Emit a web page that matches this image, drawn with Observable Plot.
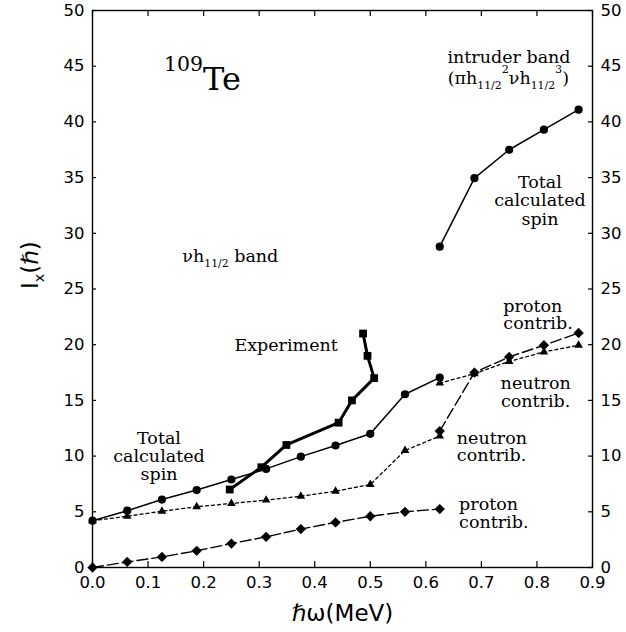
<!DOCTYPE html>
<html>
<head>
<meta charset="utf-8">
<script src="https://cdn.jsdelivr.net/npm/d3@7"></script>
<script src="https://cdn.jsdelivr.net/npm/@observablehq/plot@0.6"></script>
<style>
  html, body { margin: 0; padding: 0; background: #fff; }
  svg { display: block; }
</style>
</head>
<body>
<div id="chart"></div>
<script>
// ---- data: nu h11/2 band (calculated) ----
const omega = [0, 0.0625, 0.125, 0.1875, 0.25, 0.3125, 0.375, 0.4375, 0.5, 0.5625, 0.625];
const totalSpin = [4.2, 5.1, 6.1, 6.95, 7.9, 8.85, 9.95, 10.95, 12.0, 15.55, 17.05];
const neutronContrib = [4.2, 4.6, 5.05, 5.45, 5.75, 6.05, 6.4, 6.85, 7.45, 10.5, 11.8];
const protonContrib = [0, 0.5, 0.95, 1.5, 2.15, 2.75, 3.45, 4.05, 4.6, 5.0, 5.25];

// ---- data: intruder band (calculated) ----
const omegaIntruder = [0.625, 0.6875, 0.75, 0.8125, 0.875];
const intruderTotal = [28.8, 34.95, 37.5, 39.3, 41.1];
const intruderProton = [12.25, 17.5, 18.9, 19.95, 21.05];
const intruderNeutron = [16.55, 17.4, 18.5, 19.35, 19.95];

// ---- data: experiment ----
const expOmega = [0.247, 0.304, 0.349, 0.443, 0.467, 0.507, 0.495, 0.487];
const expSpin = [7, 9, 11, 13, 15, 17, 19, 21];

// ---- ticks ----
const xTicks = [0, 0.1, 0.2, 0.3, 0.4, 0.5, 0.6, 0.7, 0.8, 0.9];
const yTicks = [0, 5, 10, 15, 20, 25, 30, 35, 40, 45, 50];

// ---- annotation texts (anchored in data units) ----
const labelNucleus = [{x: 0.1286, y: 42.83, text: "^{109}Te"}];
const labelsBaselineStart = [{x: 0.1617, y: 27.40, text: "νh_{11/2} band"}];
const labelsBaselineMiddle = [
  {x: 0.7497, y: 45.32, text: "intruder band"},
  {x: 0.7485, y: 43.43, text: "(πh_{11/2}^{2}νh_{11/2}^{3})"},
  {x: 0.3485, y: 19.47, text: "Experiment"}
];
const labelsBlockMiddle = [
  {x: 0.8054, y: 32.94, text: "Total\ncalculated\nspin"},
  {x: 0.1197, y: 9.97, text: "Total\ncalculated\nspin"},
  {x: 0.7977, y: 15.77, text: "neutron\ncontrib."}
];
const labelsBlockStart = [
  {x: 0.7395, y: 22.68, text: "proton\ncontrib."},
  {x: 0.6558, y: 10.83, text: "neutron\ncontrib."},
  {x: 0.6599, y: 4.87, text: "proton\ncontrib."}
];
const xTitle = ["ℏω(MeV)"];
const yTitle = ["I_{x}(ℏ)"];

function series(xs, ys) { return xs.map((x, i) => ({x, y: ys[i]})); }

const total = series(omega, totalSpin);
const neutron = series(omega, neutronContrib);
const proton = series(omega, protonContrib);
const iTotal = series(omegaIntruder, intruderTotal);
const iProton = series(omegaIntruder, intruderProton);
const iNeutron = series(omegaIntruder, intruderNeutron);
const experiment = series(expOmega, expSpin);

const W = 626, H = 632, mL = 92, mR = 34, mT = 10, mB = 65;
const innerW = W - mL - mR, innerH = H - mT - mB;
const serif = "DejaVu Serif";
const labelSize = 17.5;

const svg = Plot.plot({
  width: W, height: H,
  marginLeft: mL, marginRight: mR, marginTop: mT, marginBottom: mB,
  style: {fontFamily: "DejaVu Sans", background: "white", color: "black", overflow: "visible"},
  x: {domain: [0, 0.9]},
  y: {domain: [0, 50]},
  marks: [
    Plot.axisX(xTicks, {anchor: "bottom", tickSize: 0, tickPadding: 9, tickFormat: d3.format(".1f"), fontSize: 16.5, label: null}),
    Plot.axisY(yTicks, {anchor: "left", tickSize: 0, tickPadding: 8, fontSize: 16.5, label: null}),
    Plot.axisY(yTicks, {anchor: "right", tickSize: 0, tickPadding: 8, fontSize: 16.5, label: null}),
    // inward ticks on all four sides
    Plot.tickX(xTicks, {x: d => d, insetTop: innerH - 6, stroke: "black", strokeWidth: 1.2}),
    Plot.tickX(xTicks, {x: d => d, insetBottom: innerH - 6, stroke: "black", strokeWidth: 1.2}),
    Plot.tickY(yTicks, {y: d => d, insetRight: innerW - 4, stroke: "black", strokeWidth: 1.2}),
    Plot.tickY(yTicks, {y: d => d, insetLeft: innerW - 4, stroke: "black", strokeWidth: 1.2}),
    Plot.frame({stroke: "black", strokeWidth: 1.4}),

    // proton contributions (long dashes, diamonds)
    Plot.line(proton, {x: "x", y: "y", stroke: "black", strokeWidth: 1.4, strokeDasharray: "11,4"}),
    Plot.line(iProton, {x: "x", y: "y", stroke: "black", strokeWidth: 1.4, strokeDasharray: "11,4"}),
    // neutron contributions (dotted, triangles)
    Plot.line(neutron, {x: "x", y: "y", stroke: "black", strokeWidth: 1.3, strokeDasharray: "3,3"}),
    Plot.line(iNeutron, {x: "x", y: "y", stroke: "black", strokeWidth: 1.3, strokeDasharray: "3,3"}),
    // total calculated spin (solid, circles)
    Plot.line(total, {x: "x", y: "y", stroke: "black", strokeWidth: 1.5}),
    Plot.line(iTotal, {x: "x", y: "y", stroke: "black", strokeWidth: 1.5}),
    // experiment (thick, squares)
    Plot.line(experiment, {x: "x", y: "y", stroke: "black", strokeWidth: 3}),

    Plot.dot(proton, {x: "x", y: "y", symbol: "diamond2", r: 4.4, fill: "black", stroke: "black", strokeWidth: 0.5}),
    Plot.dot(iProton, {x: "x", y: "y", symbol: "diamond2", r: 4.4, fill: "black", stroke: "black", strokeWidth: 0.5}),
    Plot.dot(neutron, {x: "x", y: "y", symbol: "triangle", r: 3.2, fill: "black"}),
    Plot.dot(iNeutron, {x: "x", y: "y", symbol: "triangle", r: 3.2, fill: "black"}),
    Plot.dot(total, {x: "x", y: "y", symbol: "circle", r: 4.1, fill: "black"}),
    Plot.dot(iTotal, {x: "x", y: "y", symbol: "circle", r: 4.1, fill: "black"}),
    Plot.dot(experiment, {x: "x", y: "y", symbol: "square", r: 4.4, fill: "black"}),

    // annotations
    Plot.text(labelNucleus, {x: "x", y: "y", text: "text", fontFamily: serif, fontSize: 32, textAnchor: "start", lineAnchor: "bottom", fill: "black"}),
    Plot.text(labelsBaselineStart, {x: "x", y: "y", text: "text", fontFamily: serif, fontSize: labelSize, textAnchor: "start", lineAnchor: "bottom", fill: "black"}),
    Plot.text(labelsBaselineMiddle, {x: "x", y: "y", text: "text", fontFamily: serif, fontSize: labelSize, textAnchor: "middle", lineAnchor: "bottom", fill: "black"}),
    Plot.text(labelsBlockMiddle, {x: "x", y: "y", text: "text", fontFamily: serif, fontSize: labelSize, textAnchor: "middle", lineAnchor: "middle", lineHeight: 1.04, fill: "black"}),
    Plot.text(labelsBlockStart, {x: "x", y: "y", text: "text", fontFamily: serif, fontSize: labelSize, textAnchor: "start", lineAnchor: "middle", lineHeight: 1.02, fill: "black"}),

    // axis titles
    Plot.text(xTitle, {text: d => d, frameAnchor: "bottom", dy: 46, fontSize: 23, fontFamily: "DejaVu Sans", lineAnchor: "middle", fill: "black"}),
    Plot.text(yTitle, {text: d => d, frameAnchor: "left", dx: -62, rotate: -90, fontSize: 23, fontFamily: "DejaVu Sans", lineAnchor: "middle", fill: "black"})
  ]
});

document.getElementById("chart").appendChild(svg);

// render _{sub} and ^{sup} markup as real tspans
function parseMarkup(str) {
  const segs = [];
  const re = /([_^])\{([^}]*)\}/g;
  let last = 0, m;
  while ((m = re.exec(str)) !== null) {
    if (m.index > last) segs.push({t: str.slice(last, m.index), mode: "normal"});
    segs.push({t: m[2], mode: m[1] === "_" ? "sub" : "sup"});
    last = re.lastIndex;
  }
  if (last < str.length) segs.push({t: str.slice(last), mode: "normal"});
  return segs;
}

d3.select(svg).selectAll("text").each(function () {
  const content = this.textContent;
  if (!/[_^]\{/.test(content)) return;
  const base = parseFloat(getComputedStyle(this).fontSize);
  const segs = parseMarkup(content);
  this.textContent = "";
  let cur = 0;
  for (const s of segs) {
    const tspan = document.createElementNS("http://www.w3.org/2000/svg", "tspan");
    let target = 0, size = base;
    if (s.mode === "sub") { target = 0.28 * base; size = 0.62 * base; }
    if (s.mode === "sup") { target = -0.6 * base; size = 0.64 * base; }
    if (target !== cur) tspan.setAttribute("dy", target - cur);
    tspan.setAttribute("font-size", size);
    tspan.textContent = s.t;
    this.appendChild(tspan);
    cur = target;
  }
});
</script>
</body>
</html>
